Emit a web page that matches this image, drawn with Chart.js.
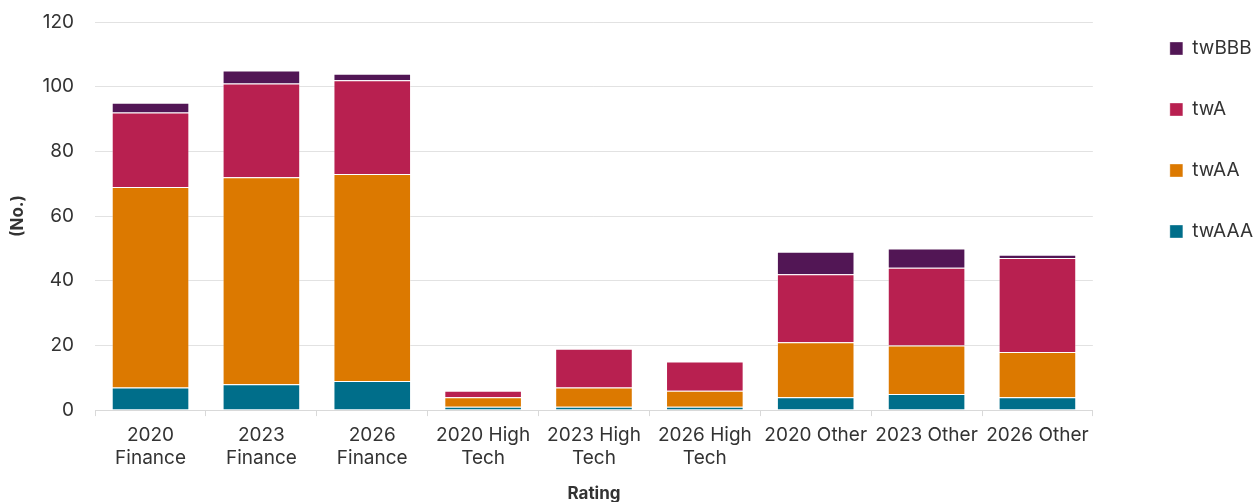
<!DOCTYPE html>
<html>
<head>
  <title>Ratings by Sector</title>
  <script src="https://cdn.jsdelivr.net/npm/chart.js@4.4.0/dist/chart.umd.min.js"></script>
  <style>
    html, body { margin: 0; padding: 0; background: #fff; }
    #wrap { width: 1254px; height: 502px; }
  </style>
</head>
<body>
<div id="wrap"><canvas id="ratings"></canvas></div>

<script>
  // categories on the x axis
  const categories = [
    ['2020', 'Finance'], ['2023', 'Finance'], ['2026', 'Finance'],
    ['2020 High', 'Tech'], ['2023 High', 'Tech'], ['2026 High', 'Tech'],
    '2020 Other', '2023 Other', '2026 Other'
  ];

  // series values (count per rating)
  const twAAA = [7, 8, 9, 1, 1, 1, 4, 5, 4];
  const twAA  = [62, 64, 64, 3, 6, 5, 17, 15, 14];
  const twA   = [23, 29, 29, 2, 12, 9, 21, 24, 29];
  const twBBB = [3, 4, 2, 0, 0, 0, 7, 6, 1];

  const yTicks = [0, 20, 40, 60, 80, 100, 120];

  const FONT = 'Inter, "Open Sans", sans-serif';
  const TEXT = '#333333';

  // nudge the legend box to the right / up like the original
  const legendShift = {
    id: 'legendShift',
    afterLayout(chart) {
      const lg = chart.legend;
      if (!lg) return;
      const dx = 35, dy = -25;
      lg.left += dx;
      lg.right += dx;
      lg.top += dy;
      lg.bottom += dy;
    }
  };

  function ds(label, data, color) {
    return {
      label: label,
      data: data,
      backgroundColor: color,
      borderColor: 'rgba(255,255,255,0.35)',
      borderWidth: 1,
      barPercentage: 0.7,
      categoryPercentage: 1.0
    };
  }

  new Chart(document.getElementById('ratings'), {
    type: 'bar',
    data: {
      labels: categories,
      datasets: [
        ds('twAAA', twAAA, '#006E8A'),
        ds('twAA', twAA, '#DC7900'),
        ds('twA', twA, '#B82050'),
        ds('twBBB', twBBB, '#521655')
      ]
    },
    options: {
      responsive: true,
      maintainAspectRatio: false,
      animation: false,
      layout: { padding: { top: 22, left: 8, right: 26, bottom: -2 } },
      plugins: {
        legend: {
          position: 'right',
          align: 'start',
          reverse: true,
          labels: {
            font: { family: FONT, size: 19 },
            color: TEXT,
            boxWidth: 13,
            boxHeight: 13,
            padding: 42
          }
        },
        tooltip: { enabled: false }
      },
      scales: {
        x: {
          stacked: true,
          grid: { drawOnChartArea: false, tickLength: 6, color: '#d9d9d9' },
          border: { color: '#d9d9d9' },
          ticks: { font: { family: FONT, size: 19, lineHeight: 1.25 }, color: TEXT, padding: 7, maxRotation: 0, autoSkip: false },
          title: { display: true, text: 'Rating', font: { family: FONT, size: 17, weight: 'bold' }, color: TEXT, padding: { top: 6, bottom: 0 } }
        },
        y: {
          stacked: true,
          min: yTicks[0],
          max: yTicks[yTicks.length - 1],
          afterBuildTicks(axis) { axis.ticks = yTicks.map(v => ({ value: v })); },
          // tick padding would otherwise push the plot top down
          afterFit(axis) { axis.paddingTop = 0; axis.paddingBottom = 0; },
          grid: { color: '#e2e2e2', tickLength: 0 },
          border: { display: false },
          ticks: { font: { family: FONT, size: 19 }, color: TEXT, padding: 21 },
          title: { display: true, text: '(No.)', font: { family: FONT, size: 17, weight: 'bold' }, color: TEXT, padding: { top: 0, bottom: -7 } }
        }
      }
    },
    plugins: [legendShift]
  });
</script>
</body>
</html>
